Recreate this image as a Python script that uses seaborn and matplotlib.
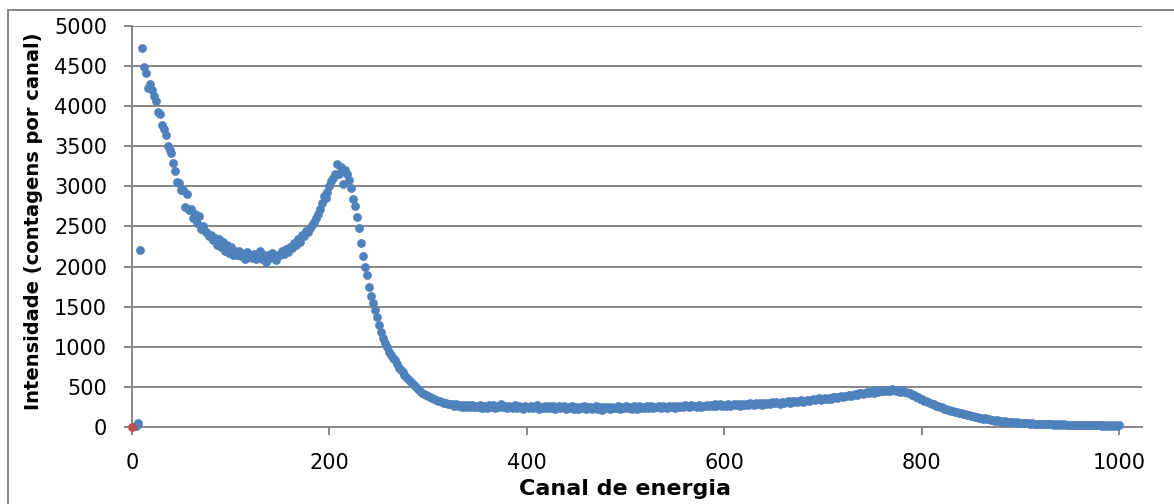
import numpy as np
import pandas as pd
import matplotlib
matplotlib.use("Agg")
import matplotlib.pyplot as plt
import seaborn as sns
from matplotlib.lines import Line2D

# ---- data ----
canal_inicial = 4
passo_canal = 2
intensidade = [
    15, 45, 2210, 4720, 4490, 4420, 4230, 4280, 4200, 4130,
    4070, 3930, 3900, 3770, 3720, 3640, 3500, 3450, 3420, 3290,
    3190, 3060, 3040, 2950, 2960, 2740, 2900, 2700, 2720, 2610,
    2650, 2540, 2630, 2470, 2500, 2440, 2420, 2380, 2400, 2330,
    2360, 2270, 2350, 2240, 2310, 2200, 2270, 2170, 2250, 2150,
    2200, 2150, 2190, 2130, 2160, 2090, 2180, 2120, 2140, 2110,
    2160, 2090, 2130, 2200, 2100, 2150, 2060, 2140, 2110, 2170,
    2120, 2080, 2150, 2140, 2190, 2160, 2220, 2180, 2250, 2230,
    2290, 2270, 2340, 2310, 2400, 2380, 2450, 2430, 2480, 2520,
    2560, 2600, 2650, 2720, 2790, 2880, 2860, 2930, 3000, 3070,
    3110, 3160, 3280, 3150, 3240, 3030, 3200, 3150, 3080, 2980,
    2840, 2760, 2620, 2480, 2300, 2130, 1990, 1890, 1740, 1630,
    1550, 1460, 1370, 1270, 1180, 1110, 1050, 1000, 940, 900,
    860, 830, 790, 740, 710, 680, 650, 620, 600, 570,
    550, 520, 500, 470, 450, 430, 410, 400, 385, 375,
    365, 350, 340, 330, 320, 310, 300, 295, 290, 285,
    285, 262, 290, 258, 280, 250, 278, 255, 272, 248,
    275, 245, 268, 252, 280, 240, 265, 258, 236, 270,
    248, 275, 238, 262, 250, 282, 244, 258, 232, 268,
    255, 240, 272, 236, 260, 248, 230, 266, 252, 238,
    262, 234, 255, 270, 228, 250, 242, 265, 232, 256,
    240, 262, 226, 250, 268, 232, 245, 258, 224, 252,
    236, 260, 230, 248, 222, 255, 240, 262, 228, 244,
    250, 225, 242, 258, 230, 248, 218, 252, 238, 246,
    228, 255, 240, 232, 258, 226, 246, 236, 262, 234,
    248, 230, 256, 240, 226, 262, 238, 250, 232, 258,
    242, 260, 236, 254, 246, 266, 234, 258, 248, 240,
    264, 246, 256, 238, 268, 250, 262, 244, 270, 256,
    248, 272, 258, 264, 246, 276, 254, 268, 260, 280,
    256, 274, 262, 282, 258, 270, 286, 262, 276, 268,
    284, 266, 278, 290, 270, 282, 264, 288, 276, 292,
    278, 296, 282, 272, 300, 286, 294, 280, 304, 290,
    298, 284, 306, 294, 312, 298, 290, 316, 302, 310,
    320, 304, 318, 310, 328, 314, 324, 336, 316, 330,
    342, 324, 338, 348, 332, 344, 356, 338, 350, 362,
    348, 366, 354, 372, 380, 360, 376, 388, 370, 392,
    382, 398, 386, 404, 412, 394, 418, 424, 406, 428,
    436, 420, 440, 448, 430, 456, 438, 462, 452, 446,
    466, 450, 444, 468, 456, 448, 462, 442, 456, 438,
    440, 420, 418, 398, 396, 376, 372, 352, 346, 330,
    326, 308, 304, 288, 284, 266, 264, 246, 244, 230,
    230, 214, 212, 198, 198, 184, 184, 172, 170, 158,
    158, 146, 147, 134, 136, 124, 124, 114, 116, 104,
    106, 96, 98, 88, 90, 81, 84, 74, 77, 68,
    72, 64, 66, 58, 62, 55, 58, 51, 54, 47,
    51, 44, 48, 41, 45, 39, 43, 37, 41, 35,
    39, 33, 37, 32, 36, 30, 34, 29, 33, 27,
    32, 26, 30, 25, 29, 24, 28, 23, 27, 22,
    26, 21, 25, 20, 24, 20, 23, 19, 23, 18,
    22, 18, 21, 17, 21, 17, 20, 16, 19,
]
canal = canal_inicial + passo_canal * np.arange(len(intensidade))

canal_ref = [0]
intensidade_ref = [0]

x_ticks = [0, 200, 400, 600, 800, 1000]
y_ticks = [0, 500, 1000, 1500, 2000, 2500, 3000, 3500, 4000, 4500, 5000]
x_label = "Canal de energia"
y_label = "Intensidade (contagens por canal)"

df = pd.DataFrame({"canal": canal, "intensidade": intensidade})
df_ref = pd.DataFrame({"canal": canal_ref, "intensidade": intensidade_ref})

# ---- style ----
sns.set_style("white")
plt.rcParams["font.family"] = ["DejaVu Sans"]

W, H = 1174, 504
fig = plt.figure(figsize=(W / 100, H / 100), dpi=100)
ax = fig.add_axes([132 / W, 1 - 427 / H, (1142 - 132) / W, (427 - 26) / H])

grid_c = "#868686"
blue = "#4F81BD"
red = "#C0504D"

sns.scatterplot(data=df, x="canal", y="intensidade", ax=ax, color=blue,
                s=40, linewidth=0, zorder=3, legend=False, clip_on=False)
sns.scatterplot(data=df_ref, x="canal", y="intensidade", ax=ax, color=red,
                s=40, linewidth=0, zorder=4, legend=False, clip_on=False)

ax.set_xlim(0, 1023)
ax.set_ylim(0, 5000)
ax.set_xticks(x_ticks)
ax.set_yticks(y_ticks)
ax.set_xticklabels([str(v) for v in x_ticks])
ax.set_yticklabels([str(v) for v in y_ticks])

ax.yaxis.grid(True, color=grid_c, linewidth=1.4)
ax.xaxis.grid(False)
ax.set_axisbelow(True)
for s in ["top", "right"]:
    ax.spines[s].set_visible(False)
for s in ["left", "bottom"]:
    ax.spines[s].set_color(grid_c)
    ax.spines[s].set_linewidth(1.4)

ax.tick_params(axis="both", which="major", length=5.5, width=1.4,
               color=grid_c, labelsize=15, labelcolor="black")
ax.tick_params(axis="y", pad=12.5, left=True)
ax.tick_params(axis="x", pad=13, bottom=True)

ax.set_xlabel(x_label, fontsize=16, fontweight="bold", color="black")
ax.set_ylabel(y_label, fontsize=14, fontweight="bold", color="black")
ax.xaxis.set_label_coords((625 - 132) / 1010, -(479 - 427) / 401)
ax.xaxis.label.set_verticalalignment("top")
ax.yaxis.set_label_coords(-(132 - 43) / 1010, (427 - 221) / 401)

# outer chart frame (partly cropped in the reference)
fig.add_artist(Line2D([7.5 / W, 1.0], [1 - 9.5 / H, 1 - 9.5 / H],
                      transform=fig.transFigure, color=grid_c, linewidth=1.4))
fig.add_artist(Line2D([7.5 / W, 7.5 / W], [0.0, 1 - 9.5 / H],
                      transform=fig.transFigure, color=grid_c, linewidth=1.4))

fig.savefig("out.png", dpi=100)
